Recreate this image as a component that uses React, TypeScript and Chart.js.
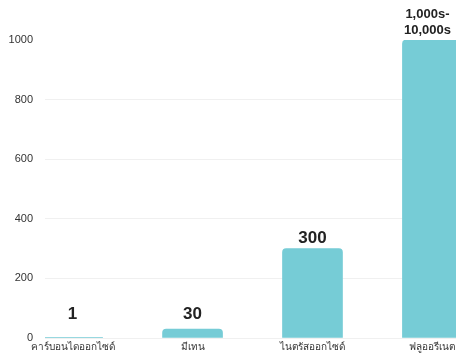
import React, { useEffect, useRef } from "react";
import { Chart, registerables } from "chart.js";

Chart.register(...registerables);

const categories = ["คาร์บอนไดออกไซด์", "มีเทน", "ไนตรัสออกไซด์", "ฟลูออรีเนต"];
const values = [1, 30, 300, 1000];
const valueLabels: (string | string[])[] = ["1", "30", "300", ["1,000s-", "10,000s"]];
const yTicks = [0, 200, 400, 600, 800, 1000];

const FONT = "'Liberation Sans', Arial, 'Noto Sans', sans-serif";

const labelPlugin = {
  id: "valueLabels",
  afterDatasetsDraw(chart: any) {
    const ctx = chart.ctx;
    const meta = chart.getDatasetMeta(0);
    const base = chart.scales.y.getPixelForValue(0);
    ctx.save();
    ctx.fillStyle = "#222";
    ctx.textAlign = "center";
    ctx.textBaseline = "alphabetic";
    meta.data.forEach((el: any, i: number) => {
      const lbl = valueLabels[i];
      const top = Math.min(el.y, base - 13);
      if (Array.isArray(lbl)) {
        ctx.font = `bold 13px ${FONT}`;
        ctx.fillText(lbl[1], el.x - 5, top - 6);
        ctx.fillText(lbl[0], el.x - 5, top - 22);
      } else {
        ctx.font = `bold 17px ${FONT}`;
        ctx.fillText(lbl, el.x, top - 6);
      }
    });
    ctx.restore();
  },
};

export default function App() {
  const ref = useRef<HTMLCanvasElement>(null);
  useEffect(() => {
    if (!ref.current) return;
    const chart = new Chart(ref.current, {
      type: "bar",
      data: {
        datasets: [
          {
            data: values.map((v, i) => ({ x: i, y: v })),
            backgroundColor: "#76CCD6",
            borderRadius: 4,
            borderSkipped: "bottom",
            barThickness: 60,
          } as any,
        ],
      },
      options: {
        animation: false,
        responsive: false,
        devicePixelRatio: 1,
        layout: { padding: { top: 40, left: 0, right: 0, bottom: 0 } },
        plugins: { legend: { display: false }, tooltip: { enabled: false } },
        scales: {
          x: {
            type: "linear",
            offset: false,
            min: -0.23,
            max: 3.73,
            grid: { display: false, drawTicks: false },
            border: { display: false },
            ticks: {
              stepSize: 1,
              includeBounds: false,
              autoSkip: false,
              maxRotation: 0,
              padding: 3,
              color: "#333",
              font: { family: FONT, size: 10 },
              callback: (v: any) => (Number.isInteger(v) ? categories[v] : ""),
            },
            afterFit: (s: any) => {
              s.height = 21;
            },
          },
          y: {
            min: 0,
            max: 1000,
            grid: {
              color: (c: any) => (c.tick && c.tick.value === 1000 ? "rgba(0,0,0,0)" : "#f0f0f0"),
              drawTicks: false,
            },
            border: { display: false },
            afterBuildTicks: (s: any) => {
              s.ticks = yTicks.map((v) => ({ value: v }));
            },
            ticks: {
              padding: 12,
              color: "#333",
              font: { family: FONT, size: 11 },
              callback: (v: any) => String(v),
            },
            afterFit: (s: any) => {
              s.width = 45;
            },
          },
        },
      },
      plugins: [labelPlugin],
    });
    return () => chart.destroy();
  }, []);
  return (
    <div
      style={{
        position: "fixed",
        left: 0,
        top: 0,
        width: 456,
        height: 359,
        overflow: "hidden",
        background: "#fff",
      }}
    >
      <canvas ref={ref} width={520} height={359} style={{ width: 520, height: 359, display: "block" }} />
    </div>
  );
}
